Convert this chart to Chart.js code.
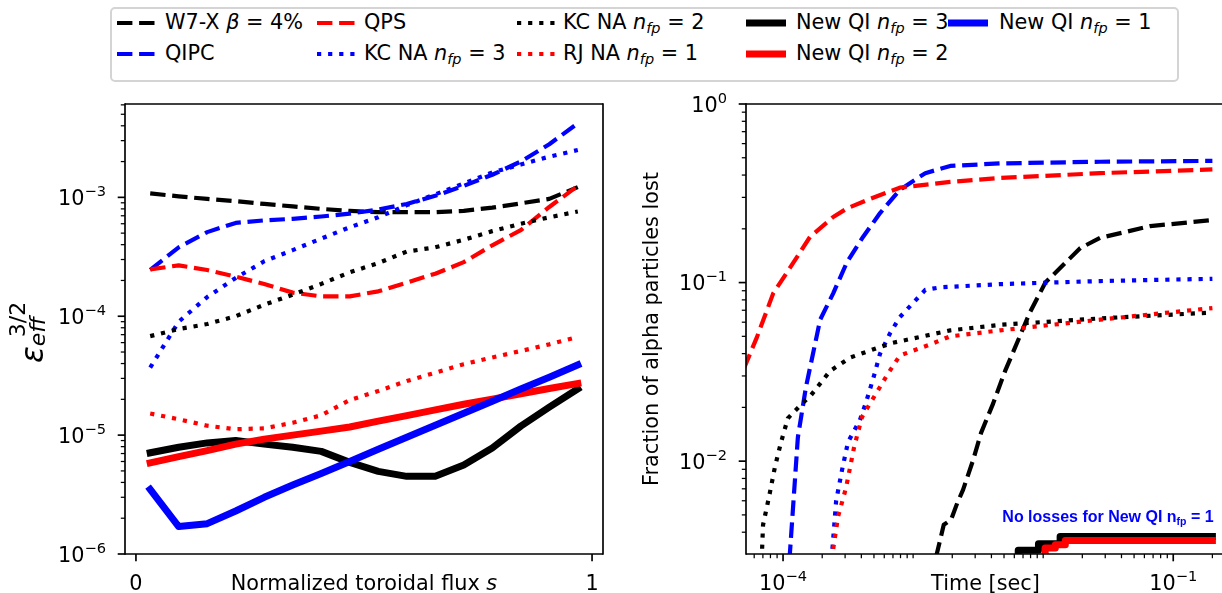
<!DOCTYPE html>
<html>
<head>
<meta charset="utf-8">
<title>Effective ripple and alpha particle losses</title>
<script src="https://cdn.jsdelivr.net/npm/chart.js@4.4.1/dist/chart.umd.min.js"></script>
<style>
  html, body { margin: 0; padding: 0; background: #fff; }
  body { width: 1222px; height: 593px; overflow: hidden; position: relative; font-family: 'DejaVu Sans', sans-serif; }
  canvas { position: absolute; left: 0; top: 0; }
  #legendBox { position: absolute; left: 110px; top: 7px; width: 1065px; height: 71px; border: 2px solid #d4d4d4; border-radius: 5px; background: #fff; }
  .lg-text { position: absolute; font-size: 20.8px; line-height: 24px; white-space: nowrap; color: #000; }
  .lg-text sub { font-size: 14.5px; vertical-align: -4px; line-height: 0; font-style: italic; }
  .lg-handle { position: absolute; }
</style>
</head>
<body>
<canvas id="ripple" width="1222" height="593"></canvas>
<canvas id="losses" width="1226" height="593"></canvas>
<div id="legendBox"></div>
<script>
// ---- left panel: eps_eff^(3/2) vs normalized toroidal flux ----
const sFlux = [0.03125, 0.09375, 0.15625, 0.21875, 0.28125, 0.34375, 0.40625, 0.46875,
               0.53125, 0.59375, 0.65625, 0.71875, 0.78125, 0.84375, 0.90625, 0.96875];
const epsW7X  = [1.08e-3, 1.02e-3, 0.97e-3, 0.93e-3, 0.88e-3, 0.84e-3, 0.80e-3, 0.77e-3,
                 0.75e-3, 0.75e-3, 0.75e-3, 0.77e-3, 0.82e-3, 0.89e-3, 0.97e-3, 1.22e-3];
const epsQIPC = [2.45e-4, 3.8e-4, 5.1e-4, 6.1e-4, 6.4e-4, 6.6e-4, 6.9e-4, 7.3e-4,
                 7.9e-4, 8.8e-4, 1.03e-3, 1.25e-3, 1.55e-3, 2.0e-3, 2.8e-3, 4.2e-3];
const epsQPS  = [2.48e-4, 2.68e-4, 2.45e-4, 2.15e-4, 1.87e-4, 1.58e-4, 1.47e-4, 1.47e-4,
                 1.62e-4, 1.92e-4, 2.28e-4, 2.85e-4, 3.95e-4, 5.3e-4, 8.3e-4, 1.25e-3];
const epsKC3  = [3.7e-5, 9.0e-5, 1.45e-4, 2.1e-4, 2.9e-4, 3.6e-4, 4.5e-4, 5.6e-4,
                 6.8e-4, 8.6e-4, 1.06e-3, 1.31e-3, 1.62e-3, 1.89e-3, 2.2e-3, 2.5e-3];
const epsKC2  = [6.8e-5, 7.8e-5, 8.6e-5, 1.0e-4, 1.25e-4, 1.52e-4, 1.87e-4, 2.34e-4,
                 2.8e-4, 3.5e-4, 3.8e-4, 4.4e-4, 5.2e-4, 6.0e-4, 6.8e-4, 7.6e-4];
const epsRJ1  = [1.52e-5, 1.36e-5, 1.2e-5, 1.12e-5, 1.14e-5, 1.27e-5, 1.47e-5, 1.97e-5,
                 2.35e-5, 2.85e-5, 3.35e-5, 3.95e-5, 4.5e-5, 5.1e-5, 5.8e-5, 6.7e-5];
const epsQI3  = [7.1e-6, 7.9e-6, 8.6e-6, 9.0e-6, 8.4e-6, 7.9e-6, 7.3e-6, 5.9e-6,
                 4.95e-6, 4.5e-6, 4.5e-6, 5.6e-6, 7.8e-6, 1.19e-5, 1.72e-5, 2.45e-5];
const epsQI2  = [5.85e-6, 6.6e-6, 7.4e-6, 8.4e-6, 9.25e-6, 1.0e-5, 1.08e-5, 1.17e-5,
                 1.31e-5, 1.46e-5, 1.63e-5, 1.82e-5, 2.01e-5, 2.23e-5, 2.47e-5, 2.72e-5];
const epsQI1  = [3.5e-6, 1.7e-6, 1.8e-6, 2.3e-6, 3.0e-6, 3.8e-6, 4.75e-6, 6.0e-6,
                 7.6e-6, 9.6e-6, 1.21e-5, 1.53e-5, 1.93e-5, 2.44e-5, 3.07e-5, 3.9e-5];

// ---- right panel: fraction of alpha particles lost vs time [sec] ----
const tW7X    = [1.5e-3, 1.72e-3, 1.96e-3, 2.18e-3, 2.42e-3, 2.9e-3, 3.33e-3, 4.12e-3,
                 5.1e-3, 7.9e-3, 0.0104, 0.0193, 0.0274, 0.0665, 0.2];
const lossW7X = [0.0029, 0.0044, 0.0047, 0.0058, 0.0069, 0.0102, 0.0144, 0.021,
                 0.032, 0.068, 0.1, 0.156, 0.178, 0.207, 0.224];
const tQIPC    = [1.12e-4, 1.3e-4, 1.5e-4, 1.93e-4, 2.43e-4, 3.1e-4, 4.12e-4, 5.57e-4,
                  7.9e-4, 1.24e-3, 1.93e-3, 4.67e-3, 0.0274, 0.2];
const lossQIPC = [0.0028, 0.0136, 0.026, 0.062, 0.087, 0.13, 0.18, 0.245,
                  0.33, 0.41, 0.45, 0.465, 0.475, 0.48];
const tQPS    = [5.0e-5, 6.3e-5, 8.4e-5, 1.19e-4, 1.61e-4, 2.43e-4, 3.1e-4, 4.43e-4,
                 7.9e-4, 1.93e-3, 4.67e-3, 0.0274, 0.2];
const lossQPS = [0.033, 0.0495, 0.087, 0.128, 0.18, 0.233, 0.26, 0.29,
                 0.34, 0.366, 0.385, 0.41, 0.43];
const tKC3    = [2.36e-4, 2.56e-4, 2.84e-4, 3.16e-4, 3.9e-4, 4.35e-4, 5.0e-4, 5.57e-4,
                 6.65e-4, 7.9e-4, 1.24e-3, 1.61e-3, 4.67e-3, 0.0274, 0.2];
const lossKC3 = [0.0028, 0.006, 0.0089, 0.0128, 0.017, 0.0214, 0.03, 0.04,
                 0.052, 0.064, 0.091, 0.094, 0.098, 0.102, 0.105];
const tKC2    = [6.85e-5, 7.02e-5, 7.8e-5, 8.67e-5, 9.66e-5, 1.09e-4, 1.4e-4, 1.61e-4,
                 2.3e-4, 3.28e-4, 5.28e-4, 7.0e-4, 1.93e-3, 4.67e-3, 0.0274, 0.2];
const lossKC2 = [0.0028, 0.0044, 0.0063, 0.0093, 0.0128, 0.0174, 0.021, 0.023,
                 0.032, 0.038, 0.043, 0.046, 0.054, 0.058, 0.063, 0.068];
const tRJ1    = [2.36e-4, 2.65e-4, 3.05e-4, 3.52e-4, 4.05e-4, 5.38e-4, 6.42e-4, 7.9e-4,
                 1.35e-3, 1.93e-3, 4.67e-3, 0.0274, 0.2];
const lossRJ1 = [0.0028, 0.0049, 0.0071, 0.012, 0.0177, 0.025, 0.031, 0.039,
                 0.045, 0.05, 0.054, 0.062, 0.072];
const tQI3    = [3.0e-3, 6.43e-3, 9.2e-3, 0.0135, 0.2];
const lossQI3 = [0.0028, 0.00317, 0.00345, 0.00378, 0.00378];
const tQI2    = [5.0e-3, 0.01035, 0.0124, 0.0148, 0.2];
const lossQI2 = [0.0028, 0.00326, 0.0034, 0.0036, 0.0036];

// ---- ticks ----
const rippleTicks = [1e-6, 1e-5, 1e-4, 1e-3];
const rippleTickExp = ['−6', '−5', '−4', '−3'];
const fluxTicks = [0, 1];
const fluxTickText = ['0', '1'];
const lossTicks = [1e-2, 1e-1, 1];
const lossTickExp = ['−2', '−1', '0'];
const timeTicks = [1e-4, 1e-1];
const timeTickExp = ['−4', '−1'];

// ---- legend ----
const seriesKeys = ['w7x', 'qipc', 'qps', 'kc3', 'kc2', 'rj1', 'qi3', 'qi2', 'qi1'];
const legendLabels = [
  'W7-X <i>β</i> = 4%', 'QIPC', 'QPS',
  'KC NA <i>n</i><sub>fp</sub> = 3', 'KC NA <i>n</i><sub>fp</sub> = 2', 'RJ NA <i>n</i><sub>fp</sub> = 1',
  'New QI <i>n</i><sub>fp</sub> = 3', 'New QI <i>n</i><sub>fp</sub> = 2', 'New QI <i>n</i><sub>fp</sub> = 1'
];

// styles
const K = '#000000', B = '#0000ff', R = '#ff0000';
const DASH = [15.4, 6.7], DOT = [4.2, 6.9];
const seriesStyle = {
  w7x:  { color: K, dash: DASH, width: 4.2 },
  qipc: { color: B, dash: DASH, width: 4.2 },
  qps:  { color: R, dash: DASH, width: 4.2 },
  kc3:  { color: B, dash: DOT, width: 4.2 },
  kc2:  { color: K, dash: DOT, width: 4.2 },
  rj1:  { color: R, dash: DOT, width: 4.2 },
  qi3:  { color: K, dash: [], width: 7 },
  qi2:  { color: R, dash: [], width: 7 },
  qi1:  { color: B, dash: [], width: 7 }
};

const rippleData = { w7x: epsW7X, qipc: epsQIPC, qps: epsQPS, kc3: epsKC3, kc2: epsKC2,
                     rj1: epsRJ1, qi3: epsQI3, qi2: epsQI2, qi1: epsQI1 };
const lossX = { w7x: tW7X, qipc: tQIPC, qps: tQPS, kc3: tKC3, kc2: tKC2, rj1: tRJ1, qi3: tQI3, qi2: tQI2 };
const lossY = { w7x: lossW7X, qipc: lossQIPC, qps: lossQPS, kc3: lossKC3, kc2: lossKC2, rj1: lossRJ1, qi3: lossQI3, qi2: lossQI2 };

const FONT = "'DejaVu Sans'";

function makeSet(key, xs, ys, i, extra) {
  const st = seriesStyle[key];
  return Object.assign({
    label: key,
    data: xs.map((x, j) => ({ x, y: ys[j] })),
    borderColor: st.color,
    backgroundColor: st.color,
    borderWidth: st.width,
    borderDash: st.dash,
    borderCapStyle: st.dash.length ? 'butt' : 'square',
    borderJoinStyle: 'round',
    pointRadius: 0,
    tension: 0,
    fill: false,
    clip: 0,
    order: 20 - i
  }, extra || {});
}

// draw a row of text pieces (mathtext-like: size, italic, bold, vertical shift)
function fontOf(p) {
  return (p.b ? 'bold ' : '') + (p.i ? 'italic ' : '') + (p.s || 20.8) + 'px ' + (p.f || FONT);
}
function drawParts(ctx, x, y, parts, align) {
  const widths = parts.map(p => { ctx.font = fontOf(p); return ctx.measureText(p.t).width; });
  const total = widths.reduce((a, b) => a + b, 0);
  let cx = align === 'right' ? x - total : align === 'center' ? x - total / 2 : x;
  parts.forEach((p, i) => { ctx.font = fontOf(p); ctx.fillText(p.t, cx, y + (p.dy || 0)); cx += widths[i]; });
}
function pow10(exp) { return [{ t: '10' }, { t: exp, s: 14.6, dy: -9 }]; }

function logMinors(min, max, majors, withDecades) {
  const out = [];
  for (let d = Math.floor(Math.log10(min)); d <= Math.ceil(Math.log10(max)); d++) {
    for (let k = withDecades ? 1 : 2; k <= 9; k++) {
      const v = k * Math.pow(10, d);
      if (v >= min && v <= max && !majors.some(m => Math.abs(m - v) / v < 1e-9)) out.push(v);
    }
  }
  return out;
}

// axes frame, ticks, tick labels and titles, drawn through the chart's scales
function makeFrame(cfg) {
  return {
    id: 'frame',
    afterDatasetsDraw(chart) {
      const { ctx, chartArea: a } = chart;
      const xs = chart.scales.x, ys = chart.scales.y;
      ctx.save();
      ctx.fillStyle = '#000';
      ctx.strokeStyle = '#000';
      ctx.lineCap = 'butt';
      ctx.textBaseline = 'alphabetic';

      const line = (x1, y1, x2, y2, w) => {
        ctx.lineWidth = w; ctx.beginPath(); ctx.moveTo(x1, y1); ctx.lineTo(x2, y2); ctx.stroke();
      };
      // ticks
      cfg.yMajor.forEach(v => { const p = ys.getPixelForValue(v); line(a.left, p, a.left - 7.3, p, 1.67); });
      cfg.yMinor.forEach(v => { const p = ys.getPixelForValue(v); line(a.left, p, a.left - 4.2, p, 1.25); });
      cfg.xMajor.forEach(v => { const p = xs.getPixelForValue(v); line(p, a.bottom, p, a.bottom + 7.3, 1.67); });
      cfg.xMinor.forEach(v => { const p = xs.getPixelForValue(v); line(p, a.bottom, p, a.bottom + 4.2, 1.25); });

      // spines
      const sp = cfg.spines;
      if (sp.includes('left')) line(a.left, a.top - 0.8, a.left, a.bottom + 0.8, 1.67);
      if (sp.includes('right')) line(a.right, a.top - 0.8, a.right, a.bottom + 0.8, 1.67);
      if (sp.includes('top')) line(a.left, a.top, a.right, a.top, 1.67);
      if (sp.includes('bottom')) line(a.left, a.bottom, a.right, a.bottom, 1.67);

      // tick labels
      cfg.yMajor.forEach((v, i) => drawParts(ctx, a.left - 19, ys.getPixelForValue(v) + 7.5, cfg.yLabels[i], 'right'));
      cfg.xMajor.forEach((v, i) => drawParts(ctx, xs.getPixelForValue(v), 590, cfg.xLabels[i], 'center'));

      // x title
      drawParts(ctx, (a.left + a.right) / 2, 590, cfg.xTitle, 'center');
      if (cfg.extra) cfg.extra(ctx, a);
      ctx.restore();
    }
  };
}

// ---------- left chart ----------
const rippleMin = 1e-6, rippleMax = 6.1e-3;
const rippleFrame = makeFrame({
  spines: ['left', 'right', 'top', 'bottom'],
  yMajor: rippleTicks,
  yMinor: logMinors(rippleMin, rippleMax, rippleTicks, false),
  yLabels: rippleTickExp.map(pow10),
  xMajor: fluxTicks,
  xMinor: [],
  xLabels: fluxTickText.map(t => [{ t }]),
  xTitle: [{ t: 'Normalized toroidal flux ' }, { t: 's', i: true }],
  extra(ctx, a) {
    // y label: epsilon_eff^(3/2)
    ctx.save();
    ctx.translate(43, 363);
    ctx.rotate(-Math.PI / 2);
    ctx.font = 'italic 31px ' + FONT;
    ctx.fillText('ε', 0, 0);
    const ew = ctx.measureText('ε').width;
    ctx.font = 'italic 22px ' + FONT;
    ctx.fillText('eff', ew, 2);
    ctx.font = '22px ' + FONT;
    ctx.fillText('3/2', ew + 9, -18);
    ctx.restore();
  }
});

new Chart(document.getElementById('ripple'), {
  type: 'line',
  data: { datasets: seriesKeys.map((k, i) => makeSet(k, sFlux, rippleData[k], i)) },
  options: {
    responsive: false,
    animation: false,
    devicePixelRatio: 1,
    events: [],
    layout: { padding: { left: 125, top: 104, right: 1222 - 603, bottom: 593 - 554 } },
    plugins: { legend: { display: false }, tooltip: { enabled: false } },
    scales: {
      x: { type: 'linear', min: -0.024, max: 1.024, display: false },
      y: { type: 'logarithmic', min: rippleMin, max: rippleMax, display: false }
    }
  },
  plugins: [rippleFrame]
});

// ---------- right chart ----------
const timeMin = 5.19e-5, timeMax = 0.25;
const lossMin = 0.00302, lossMax = 1;
const lossFrame = makeFrame({
  spines: ['left', 'top', 'bottom'],
  yMajor: lossTicks,
  yMinor: logMinors(lossMin, lossMax, lossTicks, false),
  yLabels: lossTickExp.map(pow10),
  xMajor: timeTicks,
  xMinor: logMinors(timeMin, timeMax, timeTicks, true),
  xLabels: timeTickExp.map(pow10),
  xTitle: [{ t: 'Time [sec]' }],
  extra(ctx, a) {
    ctx.save();
    ctx.translate(658, (a.top + a.bottom) / 2);
    ctx.rotate(-Math.PI / 2);
    drawParts(ctx, 0, 0, [{ t: 'Fraction of alpha particles lost' }], 'center');
    ctx.restore();
    ctx.fillStyle = '#0000ff';
    drawParts(ctx, 1108, 522, [
      { t: 'No losses for New QI n', b: true, s: 16, f: "'Liberation Sans'" },
      { t: 'fp', b: true, s: 10.5, dy: 3, f: "'Liberation Sans'" },
      { t: ' = 1', b: true, s: 16, f: "'Liberation Sans'" }
    ], 'center');
  }
});

const lossKeys = seriesKeys.filter(k => lossX[k]);
new Chart(document.getElementById('losses'), {
  type: 'line',
  data: {
    datasets: lossKeys.map((k, i) =>
      makeSet(k, lossX[k], lossY[k], i, (k === 'qi3' || k === 'qi2') ? { stepped: true } : {}))
  },
  options: {
    responsive: false,
    animation: false,
    devicePixelRatio: 1,
    events: [],
    layout: { padding: { left: 746, top: 104, right: 1, bottom: 593 - 554 } },
    plugins: { legend: { display: false }, tooltip: { enabled: false } },
    scales: {
      x: { type: 'logarithmic', min: timeMin, max: timeMax, display: false },
      y: { type: 'logarithmic', min: lossMin, max: lossMax, display: false }
    }
  },
  plugins: [lossFrame]
});

// ---------- legend (5 columns, 2 rows) ----------
const legendHandleX = [117, 317, 517, 746, 948];
const legendTextX = [165, 364, 563, 796, 999];
const legendRowY = [23, 54];
seriesKeys.forEach((k, i) => {
  const col = Math.floor(i / 2), row = i % 2;
  const st = seriesStyle[k];
  const hx = legendHandleX[col], y = legendRowY[row];
  const svg = document.createElementNS('http://www.w3.org/2000/svg', 'svg');
  svg.setAttribute('class', 'lg-handle');
  svg.setAttribute('width', '40');
  svg.setAttribute('height', '14');
  svg.style.left = hx + 'px';
  svg.style.top = (y - 7) + 'px';
  const ln = document.createElementNS('http://www.w3.org/2000/svg', 'line');
  ln.setAttribute('x1', '0'); ln.setAttribute('y1', '7');
  ln.setAttribute('x2', '40'); ln.setAttribute('y2', '7');
  ln.setAttribute('stroke', st.color);
  ln.setAttribute('stroke-width', st.width);
  if (st.dash.length) ln.setAttribute('stroke-dasharray', st.dash.join(' '));
  svg.appendChild(ln);
  document.body.appendChild(svg);
  const txt = document.createElement('div');
  txt.className = 'lg-text';
  txt.innerHTML = legendLabels[i];
  txt.style.left = legendTextX[col] + 'px';
  txt.style.top = (y - 13) + 'px';
  document.body.appendChild(txt);
});
</script>
</body>
</html>
